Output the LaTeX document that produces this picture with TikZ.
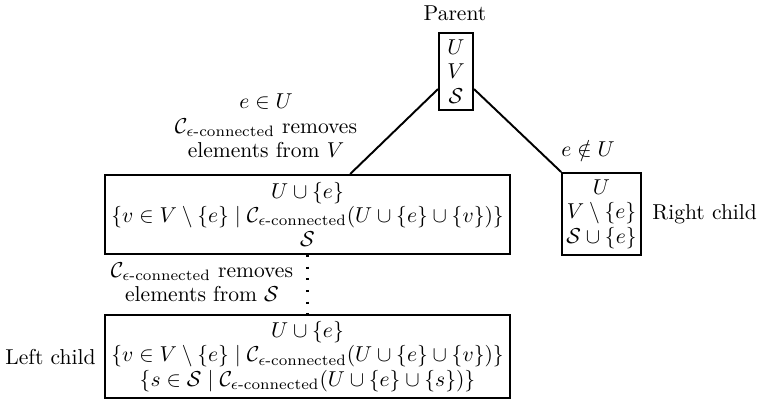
\documentclass[tikz,border=0pt]{standalone}
\usepackage{amsmath,amssymb}
\begin{document}
\begin{tikzpicture}[x=0.464pt,y=-0.464pt,
  font=\fontsize{10}{11.3}\selectfont,
  boxn/.style={draw,line width=0.9pt,align=center,inner sep=2pt},
  lbl/.style={align=center,inner sep=0pt},
  conn/.style={line width=0.9pt}]
\useasboundingbox (0,0) rectangle (763,400);
\newcommand{\Cc}{\mathcal{C}_{\epsilon\text{-connected}}}
\node[boxn,minimum width=15.8pt,minimum height=35.8pt] (parent) at (456,71.5) {$U$\\$V$\\$\mathcal{S}$};
\node[lbl] (ptitle) at (455,13) {Parent};
\node[boxn,minimum width=188.3pt,minimum height=36.7pt] (mid) at (307.5,214.5) {$U\cup\{e\}$\\$\{v\in V\setminus\{e\}\mid \Cc(U\cup\{e\}\cup\{v\})\}$\\$\mathcal{S}$};
\node[boxn,minimum width=35.8pt,minimum height=38.1pt] (right) at (601.5,214) {$U$\\$V\setminus\{e\}$\\$\mathcal{S}\cup\{e\}$};
\node[lbl,anchor=west] (rlabel) at (652,214) {Right child};
\node[boxn,minimum width=188.3pt,minimum height=38.6pt] (bot) at (307.5,356.5) {$U\cup\{e\}$\\$\{v\in V\setminus\{e\}\mid \Cc(U\cup\{e\}\cup\{v\})\}$\\$\{s\in \mathcal{S}\mid \Cc(U\cup\{e\}\cup\{s\})\}$};
\node[lbl,anchor=west] (llabel) at (5,357) {Left child};
\node[lbl] (elab) at (266,126) {$e\in U$\\$\Cc$ removes\\elements from $V$};
\node[lbl] (nlab) at (588,149) {$e\notin U$};
\node[lbl] (slab) at (202,282) {$\Cc$ removes\\elements from $\mathcal{S}$};
\draw[conn] ([yshift=10.2pt]parent.south west) -- ([xshift=19.8pt]mid.north);
\draw[conn] ([yshift=10.2pt]parent.south east) -- (right.north west);
\draw[line width=1pt,dash pattern=on 1pt off 4.4pt] (mid.south) -- (bot.north);
\end{tikzpicture}
\end{document}
